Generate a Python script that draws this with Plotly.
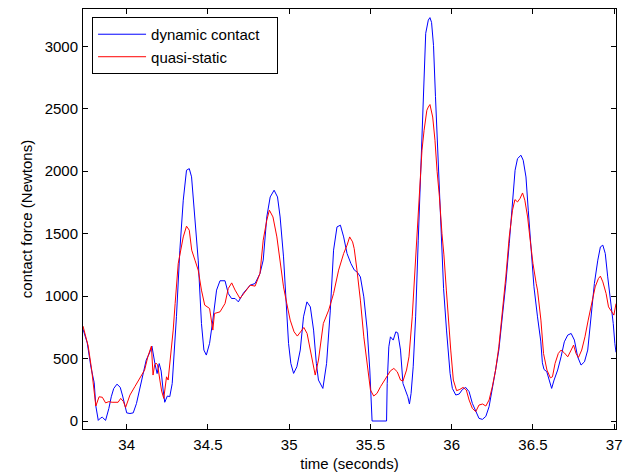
import plotly.graph_objects as go

# ---- data ----
t_dyn = [33.731, 33.757, 33.78, 33.80, 33.81, 33.825, 33.84, 33.85, 33.87, 33.89, 33.905, 33.92,
         33.94, 33.96, 33.975, 33.99, 34.00, 34.02, 34.04, 34.06, 34.09, 34.12, 34.14, 34.155,
         34.173, 34.187, 34.20, 34.212, 34.224, 34.234, 34.25, 34.265, 34.28, 34.29, 34.306,
         34.327, 34.348, 34.368, 34.385, 34.399, 34.42, 34.44, 34.46, 34.475, 34.49, 34.51,
         34.53, 34.553, 34.574, 34.605, 34.625, 34.645, 34.667, 34.687, 34.718, 34.76, 34.79,
         34.82, 34.84, 34.862, 34.883, 34.907, 34.928, 34.944, 34.965, 34.98, 34.996, 35.01,
         35.027, 35.047, 35.068, 35.088, 35.109, 35.13, 35.15, 35.167, 35.18, 35.207, 35.23,
         35.253, 35.273, 35.294, 35.315, 35.335, 35.356, 35.38, 35.40, 35.42, 35.438, 35.459,
         35.48, 35.496, 35.504, 35.51, 35.599, 35.603, 35.613, 35.623, 35.64, 35.656, 35.668,
         35.685, 35.70, 35.715, 35.73, 35.74, 35.75, 35.763, 35.778, 35.794, 35.81, 35.825,
         35.84, 35.856, 35.866, 35.876, 35.888, 35.90, 35.912, 35.925, 35.937, 35.95, 35.968,
         35.99, 36.004, 36.025, 36.046, 36.066, 36.086, 36.107, 36.127, 36.148, 36.168, 36.189,
         36.21, 36.23, 36.25, 36.27, 36.29, 36.31, 36.333, 36.354, 36.374, 36.39, 36.405,
         36.426, 36.44, 36.457, 36.471, 36.488, 36.506, 36.528, 36.548, 36.558, 36.568, 36.585,
         36.60, 36.615, 36.63, 36.652, 36.673, 36.693, 36.714, 36.735, 36.755, 36.775, 36.796,
         36.817, 36.837, 36.858, 36.878, 36.899, 36.915, 36.93, 36.945, 36.96, 36.977, 36.994,
         37.004, 37.011]
f_dyn = [735, 626, 430, 306, 120, 5, 25, 30, 5, 100, 194, 260,
         295, 270, 200, 110, 65, 60, 65, 140, 303, 488, 544, 600,
         464, 380, 460, 400, 248, 150, 200, 195, 300, 500, 835,
         1368, 1768, 2008, 2021, 1955, 1634, 1288, 781, 568, 528, 622,
         808, 1048, 1123, 1123, 1021, 981, 981, 954, 1024, 1088, 1101,
         1181, 1288, 1634, 1794, 1848, 1794, 1634, 1314, 968, 621, 461,
         381, 434, 568, 834, 954, 914, 728, 461, 328, 261, 461,
         888, 1368, 1554, 1568, 1474, 1341, 1260, 1210, 1190, 1154, 994,
         728, 408, 168, 0, 0, 301, 594, 674, 648, 714, 706,
         568, 301, 248, 194, 136, 221, 434, 834, 1448, 2000, 2568,
         3104, 3210, 3230, 3192, 3008, 2600, 2250, 1850, 1450, 1060, 728,
         381, 261, 208, 216, 253, 269, 235, 141, 75, 21, 13,
         37, 115, 248, 408, 568, 808, 1101, 1421, 1794, 2008, 2101,
         2128, 2088, 1954, 1688, 1368, 1075, 834, 640, 466, 413, 395,
         330, 261, 328, 408, 514, 634, 688, 701, 648, 514, 448,
         474, 568, 834, 1101, 1288, 1394, 1408, 1341, 1154, 968, 781,
         620, 550]

t_qs = [33.731, 33.763, 33.784, 33.80, 33.81, 33.83, 33.85, 33.87, 33.89, 33.91, 33.93, 33.947,
        33.963, 33.98, 33.993, 34.005, 34.02, 34.05, 34.08, 34.11, 34.13, 34.152, 34.162,
        34.172, 34.18, 34.19, 34.204, 34.215, 34.228, 34.245, 34.255, 34.27, 34.286, 34.298,
        34.317, 34.348, 34.368, 34.385, 34.40, 34.42, 34.44, 34.46, 34.48, 34.51, 34.53,
        34.54, 34.574, 34.605, 34.625, 34.646, 34.667, 34.697, 34.728, 34.76, 34.79, 34.82,
        34.84, 34.862, 34.878, 34.90, 34.924, 34.944, 34.965, 34.985, 35.006, 35.03, 35.05,
        35.07, 35.09, 35.11, 35.13, 35.15, 35.16, 35.18, 35.21, 35.243, 35.273, 35.304,
        35.335, 35.356, 35.372, 35.39, 35.40, 35.417, 35.438, 35.459, 35.48, 35.50, 35.52,
        35.54, 35.562, 35.58, 35.60, 35.623, 35.644, 35.665, 35.685, 35.70, 35.722, 35.737,
        35.757, 35.778, 35.80, 35.817, 35.83, 35.847, 35.856, 35.866, 35.883, 35.897, 35.91,
        35.924, 35.94, 35.952, 35.967, 35.98, 35.994, 36.01, 36.03, 36.05, 36.07, 36.09,
        36.107, 36.127, 36.148, 36.168, 36.19, 36.21, 36.23, 36.25, 36.27, 36.29, 36.31,
        36.333, 36.354, 36.374, 36.389, 36.405, 36.42, 36.436, 36.45, 36.467, 36.483, 36.50,
        36.52, 36.528, 36.549, 36.565, 36.586, 36.607, 36.62, 36.636, 36.656, 36.673, 36.693,
        36.714, 36.735, 36.75, 36.765, 36.78, 36.80, 36.82, 36.84, 36.862, 36.883, 36.903,
        36.915, 36.93, 36.95, 36.965, 36.98, 36.998, 37.011]
f_qs = [760, 600, 413, 253, 120, 194, 190, 145, 155, 150, 150, 150,
        181, 155, 108, 150, 208, 275, 341, 408, 514, 600, 368,
        450, 464, 450, 328, 240, 181, 354, 328, 514, 728, 941,
        1261, 1474, 1560, 1528, 1368, 1288, 1208, 1048, 928, 901, 728,
        861, 874, 941, 1061, 1106, 1048, 981, 1034, 1088, 1080, 1181,
        1448, 1608, 1688, 1634, 1474, 1288, 1074, 941, 808, 714, 680,
        714, 749, 701, 568, 408, 368, 488, 781, 888, 1021, 1208,
        1341, 1408, 1474, 1434, 1380, 1208, 968, 674, 434, 248, 200,
        221, 275, 315, 354, 402, 421, 394, 328, 320, 408, 514,
        834, 1300, 1768, 2168, 2328, 2488, 2514, 2534, 2434, 2248, 2000,
        1800, 1501, 1330, 1048, 800, 568, 328, 243, 253, 269, 248,
        168, 101, 75, 128, 136, 120, 168, 275, 408, 594, 834,
        1154, 1474, 1688, 1773, 1754, 1781, 1826, 1768, 1634, 1448, 1261,
        1101, 1048, 808, 541, 408, 346, 354, 461, 541, 568, 546,
        514, 568, 608, 541, 509, 568, 674, 808, 941, 1074, 1141,
        1160, 1114, 1021, 914, 888, 848, 940]

series_names = ["dynamic contact", "quasi-static"]
x_ticks = [34, 34.5, 35, 35.5, 36, 36.5, 37]
x_tick_labels = ["34", "34.5", "35", "35.5", "36", "36.5", "37"]
y_ticks = [0, 500, 1000, 1500, 2000, 2500, 3000]
y_tick_labels = ["0", "500", "1000", "1500", "2000", "2500", "3000"]

FONT = "Arial, 'Liberation Sans', sans-serif"
FS = 15
PAD = "\u00a0\u00a0\u00a0"  # widens the legend box like the reference

fig = go.Figure()
fig.add_trace(go.Scatter(x=t_dyn, y=f_dyn, mode="lines", name=series_names[0] + PAD,
                         line=dict(color="#0000FF", width=1)))
fig.add_trace(go.Scatter(x=t_qs, y=f_qs, mode="lines", name=series_names[1],
                         line=dict(color="#FF0000", width=1)))

axis_common = dict(showline=True, linecolor="black", linewidth=1, mirror="ticks",
                   ticks="inside", ticklen=5, tickcolor="black", showgrid=False,
                   zeroline=False, automargin=False,
                   tickfont=dict(family=FONT, size=FS, color="black"))

fig.update_layout(
    width=629, height=476,
    margin=dict(l=83, r=13, t=9, b=47),
    paper_bgcolor="white", plot_bgcolor="white",
    font=dict(family=FONT, size=FS, color="black"),
    xaxis=dict(range=[33.731, 37.011], tickvals=x_ticks, ticktext=x_tick_labels,
               ticklabelstandoff=2,
               title=dict(text="time (seconds)", standoff=6,
                          font=dict(family=FONT, size=FS, color="black")),
               **axis_common),
    yaxis=dict(range=[-64, 3299], tickvals=y_ticks, ticktext=y_tick_labels,
               ticklabelstandoff=1,
               title=dict(text="contact force (Newtons)", standoff=8,
                          font=dict(family=FONT, size=FS, color="black")),
               **axis_common),
    legend=dict(x=0.017, y=0.981, xanchor="left", yanchor="top",
                bgcolor="white", bordercolor="black", borderwidth=1,
                font=dict(family=FONT, size=FS, color="black"),
                tracegroupgap=0, itemwidth=48),
    showlegend=True,
)

fig.write_html("out.html")
